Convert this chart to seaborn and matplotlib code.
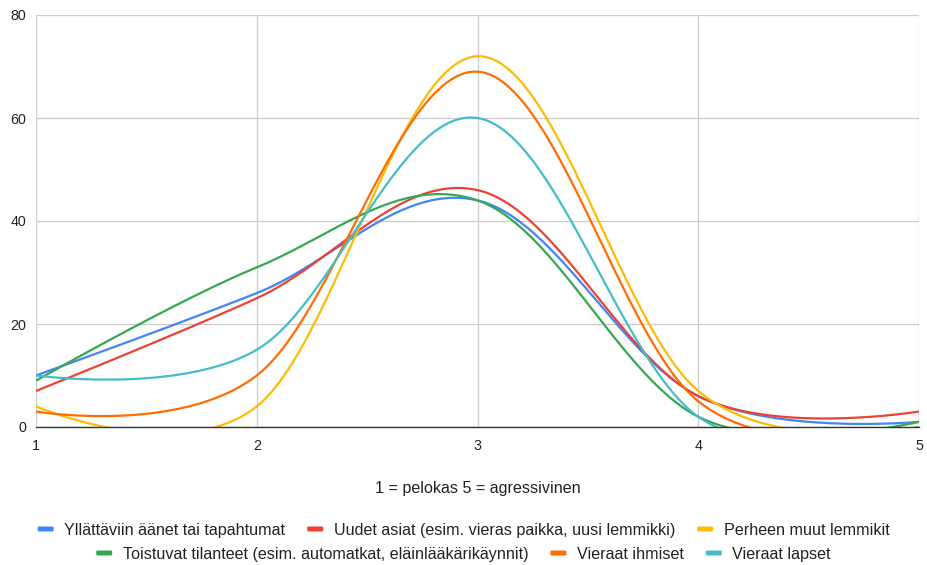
import numpy as np
import pandas as pd
import matplotlib
matplotlib.use("Agg")
import matplotlib.pyplot as plt
from matplotlib.patches import FancyBboxPatch
import seaborn as sns

# ---- data ----
x_vals = [1, 2, 3, 4, 5]
series_names = [
    "Yllättäviin äänet tai tapahtumat",
    "Uudet asiat (esim. vieras paikka, uusi lemmikki)",
    "Perheen muut lemmikit",
    "Toistuvat tilanteet (esim. automatkat, eläinlääkärikäynnit)",
    "Vieraat ihmiset",
    "Vieraat lapset",
]
yllattaviin = [10, 26, 44, 6, 1]
uudet_asiat = [7, 25, 46, 6, 3]
perheen_lemmikit = [4, 4, 72, 7, 0]
toistuvat = [9, 31, 44, 2, 1]
vieraat_ihmiset = [3, 10, 69, 5, 0]
vieraat_lapset = [10, 15, 60, 2, 0]
series_values = [yllattaviin, uudet_asiat, perheen_lemmikit,
                 toistuvat, vieraat_ihmiset, vieraat_lapset]
colors = ["#4285F4", "#EA4335", "#FBBC04", "#34A853", "#FF6D01", "#46BDC6"]
y_ticks = [0, 20, 40, 60, 80]
x_ticks = [1, 2, 3, 4, 5]
x_title = "1 = pelokas 5 = agressivinen"

W, H = 927, 565
L, R, T, B = 36, 919, 15, 427


def smooth_curve(xs, ys, f=0.175, n=60):
    """Cubic Bezier smoothing through the points (curve rendering only)."""
    P = np.column_stack([np.asarray(xs, float), np.asarray(ys, float)])
    N = len(P)
    cin = P.copy()
    cout = P.copy()
    for i in range(1, N - 1):
        d = P[i + 1] - P[i - 1]
        cin[i] = P[i] - f * d
        cout[i] = P[i] + f * d
    pts = []
    t = np.linspace(0, 1, n)[:, None]
    for i in range(N - 1):
        p0, p1, p2, p3 = P[i], cout[i], cin[i + 1], P[i + 1]
        seg = ((1 - t) ** 3) * p0 + 3 * ((1 - t) ** 2) * t * p1 + 3 * (1 - t) * t ** 2 * p2 + t ** 3 * p3
        pts.append(seg if i == 0 else seg[1:])
    pts = np.vstack(pts)
    return pts[:, 0], pts[:, 1]


sns.set_theme(style="white")
plt.rcParams["font.family"] = ["Liberation Sans", "DejaVu Sans"]

fig = plt.figure(figsize=(W / 100, H / 100), dpi=100)
ax = fig.add_axes([L / W, 1 - B / H, (R - L) / W, (B - T) / H])

frames = []
for name, vals in zip(series_names, series_values):
    cx, cy = smooth_curve(x_vals, vals)
    frames.append(pd.DataFrame({"x": cx, "y": cy, "serie": name}))
df = pd.concat(frames, ignore_index=True)

for name, col in zip(series_names, colors):
    sub = df[df["serie"] == name]
    sns.lineplot(data=sub, x="x", y="y", color=col, linewidth=1.6, sort=False,
                 estimator=None, ax=ax, legend=False, zorder=3)

ax.set_xlim(1, 5)
ax.set_ylim(0, 80)
ax.set_xticks(x_ticks)
ax.set_yticks(y_ticks)
ax.set_xticklabels([str(v) for v in x_ticks])
ax.set_yticklabels([str(v) for v in y_ticks])
ax.grid(True, color="#cccccc", linewidth=0.9)
ax.set_axisbelow(True)
for s in ["top", "right", "left"]:
    ax.spines[s].set_visible(False)
ax.spines["bottom"].set_color("#333333")
ax.spines["bottom"].set_linewidth(1.0)
ax.spines["bottom"].set_zorder(4)
ax.tick_params(axis="both", length=0, labelsize=10.3, colors="#222222")
ax.tick_params(axis="y", pad=7)
ax.tick_params(axis="x", pad=9)
ax.set_xlabel("")
ax.set_ylabel("")

fig.text((L + R) / 2 / W, 1 - 488 / H, x_title, ha="center", va="center",
         fontsize=11.6, color="#222222")

# ---- legend: two centred rows, laid out in pixels ----
LEG_FS = 11.6
MARK_W, MARK_H, MARK_GAP, ITEM_GAP = 16, 5, 10.5, 22
rows = [([0, 1, 2], 529), ([3, 4, 5], 553)]
renderer = fig.canvas.get_renderer()
for idxs, yc in rows:
    texts = []
    widths = []
    for i in idxs:
        t = fig.text(0, 0, series_names[i], fontsize=LEG_FS, color="#222222",
                     ha="left", va="baseline")
        texts.append(t)
        widths.append(t.get_window_extent(renderer).width)
    total = sum(MARK_W + MARK_GAP + w for w in widths) + ITEM_GAP * (len(idxs) - 1)
    x = W / 2 - total / 2
    base = yc + 5.6  # baseline in px from top
    for t, w, i in zip(texts, widths, idxs):
        patch = FancyBboxPatch(((x) / W, 1 - (yc + MARK_H / 2) / H), MARK_W / W, MARK_H / H,
                               boxstyle="round,pad=0,rounding_size=0.002",
                               transform=fig.transFigure, facecolor=colors[i],
                               edgecolor="none")
        fig.add_artist(patch)
        x += MARK_W + MARK_GAP
        t.set_position((x / W, 1 - base / H))
        x += w + ITEM_GAP

fig.savefig("out.png", dpi=100, facecolor="white")
